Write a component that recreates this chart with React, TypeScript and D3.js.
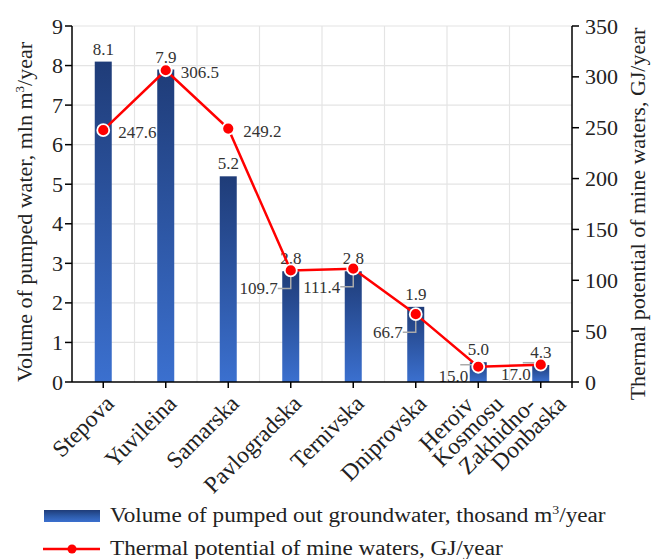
import React from 'react';
import * as d3 from 'd3';

const mines = ['Stepova', 'Yuvileina', 'Samarska', 'Pavlogradska', 'Ternivska', 'Dniprovska', 'Heroiv\nKosmosu', 'Zakhidno-\nDonbaska'];
const volume = [8.1, 7.9, 5.2, 2.8, 2.8, 1.9, 0.5, 0.43];
const volumeLabels = ['8.1', '7.9', '5.2', '2.8', '2.8', '1.9', '5.0', '4.3'];
const thermal = [247.6, 306.5, 249.2, 109.7, 111.4, 66.7, 15.0, 17.0];
const leftTicks = [0, 1, 2, 3, 4, 5, 6, 7, 8, 9];
const rightTicks = [0, 50, 100, 150, 200, 250, 300, 350];

// where each line value label sits: to the right, or with a leader line to the lower left
const thermalPlace = ['right', 'right', 'right', 'leader', 'leader', 'leader', 'flat', 'flat'];

const W = 651, H = 559;
const m = { left: 72, right: 79, top: 26, bottom: 177 };
const FONT = 'Liberation Serif, Times New Roman, serif';

export default function App() {
  const x = d3.scaleBand().domain(mines).range([m.left, W - m.right]);
  const yL = d3.scaleLinear().domain([0, 9]).range([H - m.bottom, m.top]);
  const yR = d3.scaleLinear().domain([0, 350]).range([H - m.bottom, m.top]);
  const bottom = H - m.bottom;
  const cx = (i: number) => (x(mines[i]) as number) + x.bandwidth() / 2;
  const barW = 17;

  const line = d3.line<number>().x((_, i) => cx(i)).y(d => yR(d));
  const bounds = mines.map(mn => x(mn) as number).concat([W - m.right]);

  return (
    <svg width={W} height={H} style={{ position: 'absolute', left: 0, top: 0, background: '#fff', fontFamily: FONT }}>
      <defs>
        <linearGradient id="barGrad" x1="0" y1="0" x2="0" y2="1">
          <stop offset="0" stopColor="#1f3c78" />
          <stop offset="1" stopColor="#3b70cf" />
        </linearGradient>
        <linearGradient id="legGrad" x1="0" y1="0" x2="0" y2="1">
          <stop offset="0" stopColor="#1f3c78" />
          <stop offset="0.5" stopColor="#2c5aa8" />
          <stop offset="1" stopColor="#3b70cf" />
        </linearGradient>
      </defs>

      {/* grid */}
      {leftTicks.filter(t => t > 0).map(t => (
        <line key={'h' + t} x1={m.left} x2={W - m.right} y1={yL(t)} y2={yL(t)} stroke="#e4e4e4" strokeWidth={1.2} />
      ))}
      {bounds.slice(1, -1).map((b, i) => (
        <line key={'v' + i} x1={b} x2={b} y1={m.top} y2={bottom} stroke="#e4e4e4" strokeWidth={1.2} />
      ))}

      {/* bars */}
      {volume.map((v, i) => (
        <rect key={'b' + i} x={cx(i) - barW / 2} y={yL(v)} width={barW} height={bottom - yL(v)} fill="url(#barGrad)" />
      ))}
      {volume.map((v, i) => (
        <text key={'bl' + i} x={cx(i)} y={yL(v) - 7} textAnchor="middle" fontSize={17} fill="#333">{volumeLabels[i]}</text>
      ))}

      {/* leader lines */}
      {thermal.map((t, i) => {
        const px = cx(i), py = yR(t);
        if (thermalPlace[i] === 'leader') {
          return <path key={'ld' + i} d={`M${px},${py} V${py + 18} H${px - 13}`} fill="none" stroke="#aaa" strokeWidth={1.5} />;
        }
        if (thermalPlace[i] === 'flat') {
          return <path key={'ld' + i} d={`M${px},${py - 2} H${px - 18}`} fill="none" stroke="#aaa" strokeWidth={1.5} />;
        }
        return null;
      })}

      {/* line */}
      <path d={line(thermal) as string} fill="none" stroke="#f00" strokeWidth={2.5} />
      {thermal.map((t, i) => (
        <circle key={'c' + i} cx={cx(i)} cy={yR(t)} r={6} fill="#f00" stroke="#fff" strokeWidth={1.8} />
      ))}
      {thermal.map((t, i) => {
        const px = cx(i), py = yR(t);
        const p = thermalPlace[i];
        if (p === 'right') {
          return <text key={'tl' + i} x={px + 15} y={py + 8} fontSize={17} fill="#333">{t.toFixed(1)}</text>;
        }
        if (p === 'leader') {
          return <text key={'tl' + i} x={px - 13} y={py + 24} textAnchor="end" fontSize={17} fill="#333">{t.toFixed(1)}</text>;
        }
        return <text key={'tl' + i} x={px - 10} y={py + 15} textAnchor="end" fontSize={17} fill="#333">{t.toFixed(1)}</text>;
      })}

      {/* left axis */}
      <line x1={m.left} x2={m.left} y1={m.top} y2={bottom} stroke="#000" strokeWidth={1.5} />
      {leftTicks.map(t => (
        <g key={'lt' + t}>
          <line x1={m.left - 7} x2={m.left} y1={yL(t)} y2={yL(t)} stroke="#000" strokeWidth={1.5} />
          <text x={m.left - 9} y={yL(t) + 7.5} textAnchor="end" fontSize={22} fill="#222">{t}</text>
        </g>
      ))}

      {/* right axis */}
      <line x1={W - m.right} x2={W - m.right} y1={m.top} y2={bottom} stroke="#000" strokeWidth={1.5} />
      {rightTicks.map(t => (
        <g key={'rt' + t}>
          <line x1={W - m.right} x2={W - m.right + 7} y1={yR(t)} y2={yR(t)} stroke="#000" strokeWidth={1.5} />
          <text x={W - m.right + 13} y={yR(t) + 7.5} fontSize={22} fill="#222">{t}</text>
        </g>
      ))}

      {/* bottom axis */}
      <line x1={m.left} x2={W - m.right} y1={bottom} y2={bottom} stroke="#000" strokeWidth={1.5} />
      {mines.map((mn, i) => (
        <line key={'xt' + i} x1={cx(i)} x2={cx(i)} y1={bottom} y2={bottom + 6} stroke="#000" strokeWidth={1.5} />
      ))}
      <line x1={W - m.right} x2={W - m.right} y1={bottom} y2={bottom + 6} stroke="#000" strokeWidth={1.5} />
      {mines.map((mn, i) => {
        const lines = mn.split('\n');
        const multi = lines.length > 1;
        return (
          <text key={'xl' + i} transform={`translate(${cx(i) + 5},${bottom + 16}) rotate(-45)`} textAnchor="end" fontSize={23.5} fill="#222">
            {lines.map((l, j) => (
              <tspan key={j} x={multi ? (j === 0 ? -12 : 10) : 0} dy={j === 0 ? (multi ? 0 : 10) : 20.5}>{l}</tspan>
            ))}
          </text>
        );
      })}

      {/* axis titles */}
      <text transform={`translate(32,212) rotate(-90)`} textAnchor="middle" fontSize={22} fill="#222">
        Volume of pumped water, mln m<tspan dy={-8} fontSize={13}>3</tspan><tspan dy={8}>/year</tspan>
      </text>
      <text transform={`translate(645,214) rotate(-90)`} textAnchor="middle" fontSize={22} fill="#222">
        Thermal potential of mine waters,  GJ/year
      </text>

      {/* legend */}
      <rect x={44} y={510} width={56} height={12} fill="url(#legGrad)" />
      <text transform="translate(110,522) scale(1.16,1)" fontSize={20} fill="#222">
        Volume of pumped out groundwater, thosand m<tspan dy={-8} fontSize={12}>3</tspan><tspan dy={8}>/year</tspan>
      </text>
      <line x1={43} x2={100} y1={549} y2={549} stroke="#f00" strokeWidth={2.5} />
      <circle cx={72} cy={549} r={4.5} fill="#f00" />
      <text transform="translate(110,555) scale(1.16,1)" fontSize={20} fill="#222">Thermal potential of mine waters, GJ/year</text>
    </svg>
  );
}
